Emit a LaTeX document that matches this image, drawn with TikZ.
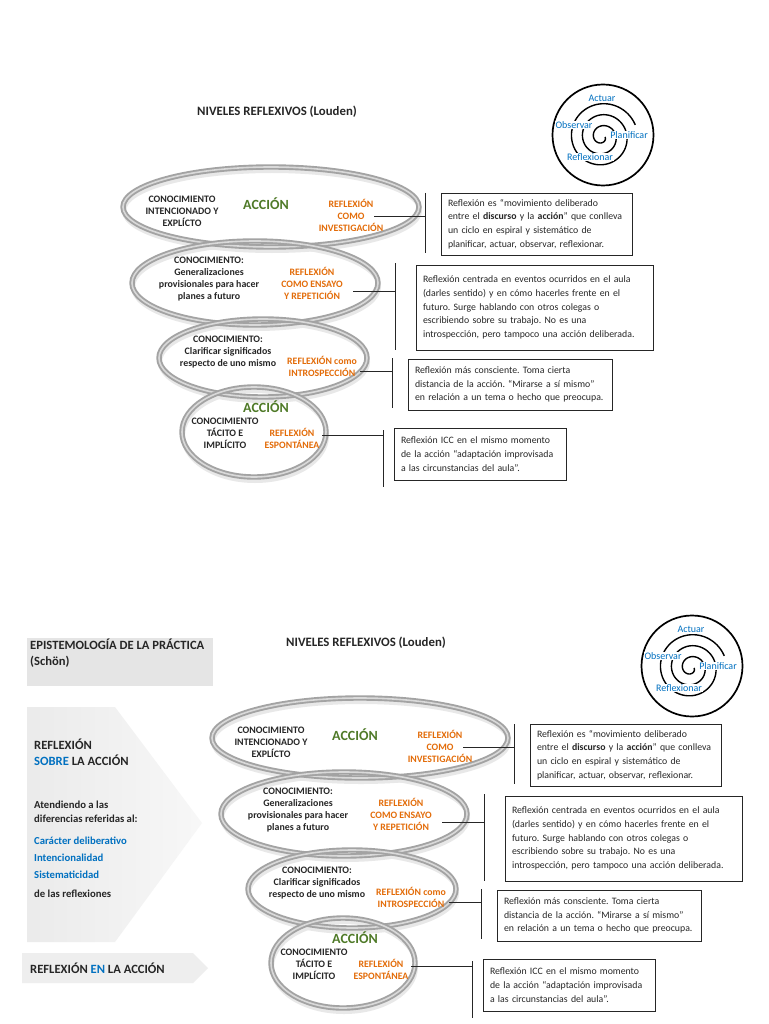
\documentclass[tikz,border=0pt]{standalone}
\usepackage{fontspec}
\setmainfont{Carlito}
\usetikzlibrary{shapes.geometric,calc}
\definecolor{orng}{HTML}{E36C09}
\definecolor{grn}{HTML}{4F7A28}
\definecolor{blu}{HTML}{0070C0}
\definecolor{ink}{HTML}{262626}
\frenchspacing
\tikzset{
  ringnode/.style={ellipse, draw=gray!72, line width=1.9pt, double=gray!30, double distance=1.6pt, inner sep=0pt},
  ringshade/.style={draw=gray!18, line width=4pt},
  ktxt/.style={font=\bfseries\fontsize{9.9}{12}\selectfont, align=center, text=ink, inner sep=0pt},
  otxt/.style={font=\bfseries\fontsize{9.8}{12}\selectfont, align=center, text=orng, inner sep=0pt},
  accion/.style={font=\bfseries\fontsize{14}{16}\selectfont, text=grn, inner sep=0pt},
  titletxt/.style={font=\bfseries\fontsize{12.8}{14}\selectfont, text=ink, inner sep=0pt},
  descbox/.style={draw=ink, line width=0.9pt, align=left, font=\fontsize{9.8}{13.8}\selectfont, text=ink, inner xsep=7pt, inner ysep=0pt},
  conn/.style={draw=ink, line width=0.8pt},
  spl/.style={font=\fontsize{10}{11}\selectfont, text=blu, inner sep=0.8pt, fill=white},
  ltxt/.style={font=\bfseries\fontsize{12.6}{16}\selectfont, text=ink, inner sep=0pt, align=left, anchor=west},
  stxt/.style={font=\bfseries\fontsize{10.7}{14}\selectfont, text=ink, inner sep=0pt, align=left, anchor=west}
}
\newcommand\nivelesblock[3]{%
\begin{scope}[shift={(#1,#2)}]
  \node[titletxt] (#3title) at (277,112) {NIVELES REFLEXIVOS (Louden)};
  % spiral icon
  \node[draw=black, circle, line width=1.7pt, minimum size=101pt, inner sep=0pt] (#3circ) at (603,135) {};
  \draw[line width=1.4pt, black] plot[domain=0:1060, samples=300, variable=\t]
     ({602+(3+11*\t/360)*cos(\t)},{137+(3+11*\t/360)*sin(\t)});
  \node[spl] (#3act) at (602,98) {Actuar};
  \node[spl] (#3obs) at (574,125) {Observar};
  \node[spl] (#3pla) at (629,135) {Planificar};
  \node[spl] (#3ref) at (590,157) {Reflexionar};
  % rings (soft shadows)
  \draw[ringshade] (272,211) ellipse [x radius=148, y radius=40];
  \draw[ringshade] (256,287) ellipse [x radius=123, y radius=42];
  \draw[ringshade] (264,362) ellipse [x radius=104, y radius=39];
  \draw[ringshade] (255,436) ellipse [x radius=72, y radius=45];
  \node[ringnode, minimum width=296pt, minimum height=80pt] (#3e1) at (271,207) {};
  \node[ringnode, minimum width=246pt, minimum height=84pt] (#3e2) at (255,283) {};
  \node[ringnode, minimum width=208pt, minimum height=78pt] (#3e3) at (263,358) {};
  \node[ringnode, minimum width=144pt, minimum height=90pt] (#3e4) at (254,432) {};
  % ring texts
  \node[ktxt] (#3k1) at (182,211) {CONOCIMIENTO\\INTENCIONADO Y\\EXPLÍCTO};
  \node[accion] (#3a1) at (266,204) {ACCIÓN};
  \node[otxt] (#3o1) at (351,215) {REFLEXIÓN\\COMO\\INVESTIGACIÓN};
  \node[ktxt] (#3k2) at (209,279) {CONOCIMIENTO:\\Generalizaciones\\provisionales para hacer\\planes a futuro};
  \node[otxt] (#3o2) at (312,283) {REFLEXIÓN\\COMO ENSAYO\\Y REPETICIÓN};
  \node[ktxt] (#3k3) at (228,352) {CONOCIMIENTO:\\Clarificar significados\\respecto de uno mismo};
  \node[otxt] (#3o3) at (322,366) {REFLEXIÓN como\\INTROSPECCIÓN};
  \node[accion] (#3a4) at (266,407) {ACCIÓN};
  \node[ktxt] (#3k4) at (225,433) {CONOCIMIENTO\\TÁCITO E\\IMPLÍCITO};
  \node[otxt] (#3o4) at (292,438) {REFLEXIÓN\\ESPONTÁNEA};
  % description boxes
  \node[descbox, minimum width=191pt, minimum height=62pt, text width=177pt] (#3b1) at (536.5,224)
    {Reflexión es “movimiento deliberado\\entre el \textbf{discurso} y la \textbf{acción}” que conlleva\\un ciclo en espiral y sistemático de\\planificar, actuar, observar, reflexionar.};
  \node[descbox, minimum width=237pt, minimum height=85pt, text width=223pt] (#3b2) at (534.5,307.5)
    {Reflexión centrada en eventos ocurridos en el aula\\(darles sentido) y en cómo hacerles frente en el\\futuro. Surge hablando con otros colegas o\\escribiendo sobre su trabajo. No es una\\introspección, pero tampoco una acción deliberada.};
  \node[descbox, minimum width=204pt, minimum height=51pt, text width=190pt] (#3b3) at (510,384.5)
    {Reflexión más consciente. Toma cierta\\distancia de la acción. “Mirarse a sí mismo”\\en relación a un tema o hecho que preocupa.};
  \node[descbox, minimum width=172pt, minimum height=52pt, text width=158pt] (#3b4) at (480,454)
    {Reflexión ICC en el mismo momento\\de la acción “adaptación improvisada\\a las circunstancias del aula”.};
  % connectors
  \coordinate (#3s1) at (374,216); \coordinate (#3t1) at (425,193); \coordinate (#3u1) at (425,253);
  \coordinate (#3s2) at (353,291); \coordinate (#3t2) at (395,263); \coordinate (#3u2) at (395,350);
  \coordinate (#3s3) at (360,371); \coordinate (#3t3) at (392,358); \coordinate (#3u3) at (392,408);
  \coordinate (#3s4) at (322,435); \coordinate (#3t4) at (383,430); \coordinate (#3u4) at (383,487);
  \draw[conn] (#3t1) -- (#3u1); \draw[conn] (#3s1) -- (#3s1 -| #3t1);
  \draw[conn] (#3t2) -- (#3u2); \draw[conn] (#3s2) -- (#3s2 -| #3t2);
  \draw[conn] (#3t3) -- (#3u3); \draw[conn] (#3s3) -- (#3s3 -| #3t3);
  \draw[conn] (#3t4) -- (#3u4); \draw[conn] (#3s4) -- (#3s4 -| #3t4);
\end{scope}}
\begin{document}
\begin{tikzpicture}[x=1pt,y=-1pt]
  \useasboundingbox[fill=white] (0,0) rectangle (768,1024);
  \nivelesblock{0}{0}{A}
  \nivelesblock{89}{531}{B}
  % left panel (lower page)
  \fill[gray!20] (27,638) rectangle (213,686);
  \node[ltxt, anchor=north west] (epi) at (30,639) {EPISTEMOLOGÍA DE LA PRÁCTICA\\(Schön)};
  \shade[left color=gray!16, right color=gray!6] (27,707) -- (115,707) -- (202,823) -- (115,942) -- (27,942) -- cycle;
  \fill[gray!13] (22,953) -- (193,953) -- (208,968) -- (193,983) -- (22,983) -- cycle;
  \node[ltxt] (sobre) at (34,752) {REFLEXIÓN\\\textcolor{blu}{SOBRE} LA ACCIÓN};
  \node[stxt] (aten) at (34,812) {Atendiendo a las\\diferencias referidas al:};
  \node[stxt, text=blu, font=\bfseries\fontsize{10.7}{17}\selectfont] (crit) at (34,858) {Carácter deliberativo\\Intencionalidad\\Sistematicidad};
  \node[stxt] (dela) at (34,894) {de las reflexiones};
  \node[ltxt] (enla) at (30,968) {REFLEXIÓN \textcolor{blu}{EN} LA ACCIÓN};
\end{tikzpicture}
\end{document}
